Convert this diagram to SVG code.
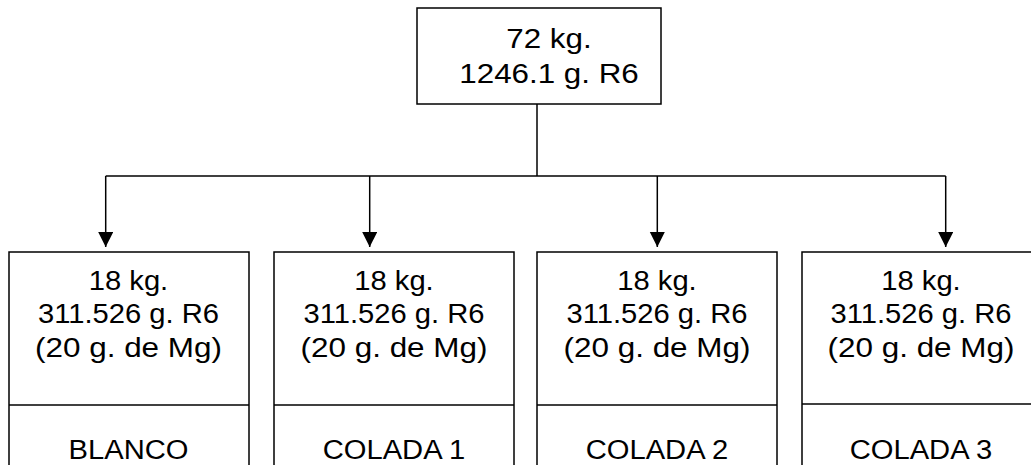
<svg xmlns="http://www.w3.org/2000/svg" width="1031" height="465" viewBox="0 0 1031 465">
<style>
.box{fill:#fff;stroke:#000;stroke-width:1.5}
.ln{fill:none;stroke:#000;stroke-width:1.5}
.t{font-family:"Liberation Sans",Arial,sans-serif;font-size:27px;fill:#000;text-anchor:middle}
.tt{font-family:"Liberation Sans",Arial,sans-serif;font-size:28.5px;fill:#000;text-anchor:middle}
</style>
<defs>
<marker id="ah" markerWidth="16" markerHeight="16" refX="15" refY="7.5" orient="auto" markerUnits="userSpaceOnUse">
<path d="M0,0 L15,7.5 L0,15 Z" fill="#000"/>
</marker>
</defs>
<rect width="1031" height="465" fill="#fff"/>
<g id="connectors">
<path class="ln" d="M537,104 V176"/>
<path class="ln" d="M105.7,176 H945.7"/>
<path class="ln" d="M105.7,176 V247" marker-end="url(#ah)"/>
<path class="ln" d="M369.7,176 V247" marker-end="url(#ah)"/>
<path class="ln" d="M657.3,176 V247" marker-end="url(#ah)"/>
<path class="ln" d="M945.7,176 V247" marker-end="url(#ah)"/>
</g>
<g id="top">
<rect class="box" x="417" y="8" width="244" height="96"/>
<g transform="translate(549 0) scale(1.1 1)">
<text class="tt" x="0" y="48">72 kg.</text>
<text class="tt" x="0" y="83">1246.1 g. R6</text>
</g>
</g>
<g id="blanco">
<rect class="box" x="9" y="252" width="240" height="230"/>
<path class="ln" d="M9,405 H249"/>
<g transform="translate(128.5 0) scale(1.08 1)">
<text class="t" x="0" y="290">18 kg.</text>
<text class="t" x="0" y="323.5">311.526 g. R6</text>
<text class="t" x="0" y="357" textLength="173" lengthAdjust="spacingAndGlyphs">(20 g. de Mg)</text>
<text class="t" x="0" y="459">BLANCO</text>
</g>
</g>
<g id="colada1">
<rect class="box" x="274" y="252" width="240" height="230"/>
<path class="ln" d="M274,405 H514"/>
<g transform="translate(394 0) scale(1.08 1)">
<text class="t" x="0" y="290">18 kg.</text>
<text class="t" x="0" y="323.5">311.526 g. R6</text>
<text class="t" x="0" y="357" textLength="173" lengthAdjust="spacingAndGlyphs">(20 g. de Mg)</text>
<text class="t" x="0" y="459">COLADA 1</text>
</g>
</g>
<g id="colada2">
<rect class="box" x="537" y="252" width="240" height="230"/>
<path class="ln" d="M537,405 H777"/>
<g transform="translate(657 0) scale(1.08 1)">
<text class="t" x="0" y="290">18 kg.</text>
<text class="t" x="0" y="323.5">311.526 g. R6</text>
<text class="t" x="0" y="357" textLength="173" lengthAdjust="spacingAndGlyphs">(20 g. de Mg)</text>
<text class="t" x="0" y="459">COLADA 2</text>
</g>
</g>
<g id="colada3">
<rect class="box" x="802" y="252" width="240" height="230"/>
<path class="ln" d="M802,404 H1042"/>
<g transform="translate(921 0) scale(1.08 1)">
<text class="t" x="0" y="290">18 kg.</text>
<text class="t" x="0" y="323.5">311.526 g. R6</text>
<text class="t" x="0" y="357" textLength="173" lengthAdjust="spacingAndGlyphs">(20 g. de Mg)</text>
<text class="t" x="0" y="459">COLADA 3</text>
</g>
</g>
</svg>
